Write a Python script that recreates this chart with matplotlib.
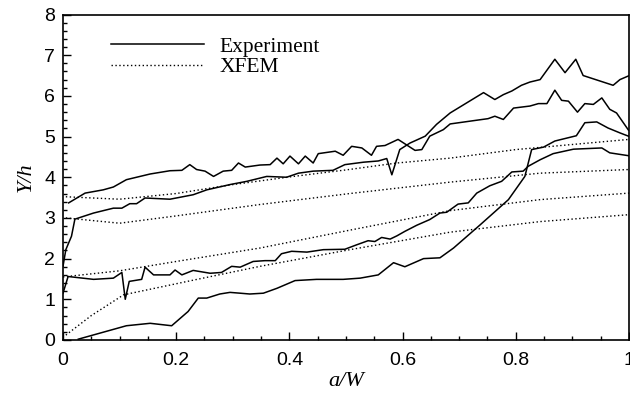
import matplotlib
matplotlib.use("Agg")
import matplotlib.pyplot as plt
from matplotlib.ticker import MultipleLocator

# ---- data ----
exp1_x = [0.01, 0.039, 0.071, 0.089, 0.112, 0.154, 0.189, 0.210, 0.224, 0.236, 0.251, 0.266, 0.283,
          0.298, 0.310, 0.322, 0.348, 0.366, 0.378, 0.389, 0.401, 0.416, 0.428, 0.442, 0.451, 0.481,
          0.495, 0.510, 0.528, 0.545, 0.554, 0.569, 0.592, 0.622, 0.634, 0.648, 0.672, 0.684, 0.725,
          0.751, 0.763, 0.778, 0.796, 0.825, 0.840, 0.855, 0.869, 0.881, 0.893, 0.909, 0.922, 0.937,
          0.952, 0.966, 0.978, 0.999]
exp1_y = [3.37, 3.61, 3.69, 3.76, 3.94, 4.08, 4.16, 4.17, 4.31, 4.19, 4.15, 4.02, 4.15,
          4.17, 4.35, 4.25, 4.30, 4.31, 4.47, 4.33, 4.52, 4.33, 4.52, 4.35, 4.58, 4.64,
          4.54, 4.76, 4.72, 4.54, 4.76, 4.78, 4.93, 4.66, 4.68, 5.01, 5.17, 5.31, 5.39,
          5.44, 5.50, 5.42, 5.70, 5.75, 5.81, 5.81, 6.14, 5.89, 5.87, 5.60, 5.81, 5.79,
          5.95, 5.67, 5.58, 5.16]

exp2_x = [0.0, 0.005, 0.015, 0.021, 0.054, 0.089, 0.104, 0.118, 0.130, 0.145, 0.189, 0.230, 0.254,
          0.295, 0.325, 0.360, 0.395, 0.416, 0.442, 0.477, 0.498, 0.531, 0.557, 0.572, 0.581,
          0.595, 0.613, 0.640, 0.660, 0.684, 0.743, 0.763, 0.778, 0.793, 0.810, 0.825, 0.843,
          0.869, 0.887, 0.906, 0.919, 0.972, 0.984, 0.999]
exp2_y = [1.81, 2.22, 2.55, 2.97, 3.12, 3.24, 3.24, 3.35, 3.35, 3.49, 3.46, 3.57, 3.69,
          3.82, 3.90, 4.02, 4.00, 4.10, 4.15, 4.17, 4.31, 4.37, 4.40, 4.46, 4.06,
          4.68, 4.84, 5.01, 5.30, 5.58, 6.08, 5.91, 6.03, 6.12, 6.26, 6.34, 6.40,
          6.90, 6.57, 6.90, 6.50, 6.26, 6.40, 6.49]

exp3_x = [0.0, 0.009, 0.054, 0.089, 0.104, 0.110, 0.117, 0.139, 0.145, 0.160, 0.189, 0.198, 0.210,
          0.230, 0.260, 0.280, 0.298, 0.313, 0.336, 0.357, 0.375, 0.386, 0.404, 0.431, 0.460,
          0.498, 0.519, 0.539, 0.551, 0.563, 0.578, 0.590, 0.604, 0.625, 0.648, 0.666, 0.678,
          0.698, 0.716, 0.731, 0.754, 0.775, 0.793, 0.813, 0.822, 0.843, 0.866, 0.902, 0.952,
          0.966, 0.999]
exp3_y = [1.15, 1.56, 1.49, 1.52, 1.66, 1.00, 1.44, 1.49, 1.79, 1.60, 1.60, 1.72, 1.60,
          1.71, 1.64, 1.66, 1.81, 1.79, 1.93, 1.95, 1.95, 2.12, 2.18, 2.16, 2.22,
          2.23, 2.34, 2.44, 2.42, 2.52, 2.48, 2.56, 2.67, 2.82, 2.96, 3.12, 3.14,
          3.34, 3.37, 3.61, 3.79, 3.90, 4.13, 4.15, 4.27, 4.43, 4.58, 4.69, 4.72,
          4.60, 4.53]

exp4_x = [0.027, 0.112, 0.154, 0.192, 0.221, 0.239, 0.254, 0.277, 0.295, 0.313, 0.330, 0.354, 0.378,
          0.410, 0.448, 0.495, 0.525, 0.557, 0.584, 0.604, 0.637, 0.666, 0.690, 0.737, 0.787,
          0.816, 0.828, 0.849, 0.869, 0.907, 0.922, 0.943, 0.963, 0.984, 0.999]
exp4_y = [0.02, 0.35, 0.41, 0.35, 0.70, 1.03, 1.03, 1.13, 1.17, 1.15, 1.13, 1.15, 1.27,
          1.46, 1.49, 1.49, 1.52, 1.60, 1.90, 1.80, 2.00, 2.02, 2.26, 2.83, 3.45,
          4.02, 4.68, 4.74, 4.89, 5.02, 5.34, 5.36, 5.21, 5.09, 5.01]

xfem1_x = [0.005, 0.1, 0.2, 0.3, 0.407, 0.5, 0.59, 0.684, 0.8, 1.0]
xfem1_y = [3.52, 3.46, 3.60, 3.82, 4.02, 4.18, 4.35, 4.47, 4.68, 4.93]

xfem2_x = [0.005, 0.1, 0.2, 0.348, 0.507, 0.684, 0.843, 1.0]
xfem2_y = [3.00, 2.87, 3.05, 3.33, 3.60, 3.88, 4.10, 4.19]

xfem3_x = [0.0, 0.1, 0.2, 0.348, 0.507, 0.684, 0.843, 1.0]
xfem3_y = [1.55, 1.70, 1.93, 2.26, 2.70, 3.18, 3.45, 3.61]

xfem4_x = [0.005, 0.05, 0.107, 0.23, 0.348, 0.507, 0.684, 0.843, 1.0]
xfem4_y = [0.12, 0.60, 1.11, 1.47, 1.81, 2.22, 2.65, 2.91, 3.08]

xticks = [0, 0.2, 0.4, 0.6, 0.8, 1]
xticklabels = ["0", "0.2", "0.4", "0.6", "0.8", "1"]
yticks = [0, 1, 2, 3, 4, 5, 6, 7, 8]

# ---- figure ----
fig = plt.figure(figsize=(6.3, 3.93), dpi=100)
ax = fig.add_axes([0.1, 0.1349, 0.8984, 0.8282])

solid = dict(color="black", lw=1.1, ls="-")
dotted = dict(color="black", lw=1.0, ls=(0, (1, 1.8)))

ax.plot(exp1_x, exp1_y, label="Experiment", **solid)
ax.plot(exp2_x, exp2_y, **solid)
ax.plot(exp3_x, exp3_y, **solid)
ax.plot(exp4_x, exp4_y, **solid)
ax.plot(xfem1_x, xfem1_y, label="XFEM", **dotted)
ax.plot(xfem2_x, xfem2_y, **dotted)
ax.plot(xfem3_x, xfem3_y, **dotted)
ax.plot(xfem4_x, xfem4_y, **dotted)

ax.set_xlim(0, 1)
ax.set_ylim(0, 8)
ax.set_xticks(xticks)
ax.set_xticklabels(xticklabels)
ax.set_yticks(yticks)
ax.xaxis.set_minor_locator(MultipleLocator(0.05))
ax.yaxis.set_minor_locator(MultipleLocator(0.2))

ax.tick_params(which="both", direction="in", width=1.0)
ax.tick_params(which="major", length=5.8)
ax.tick_params(which="minor", length=2.8)
ax.tick_params(axis="x", pad=9)
ax.tick_params(axis="y", pad=5.5)
for lab in ax.get_xticklabels() + ax.get_yticklabels():
    lab.set_family("Liberation Sans")
    lab.set_fontsize(14)

for sp in ax.spines.values():
    sp.set_linewidth(1.2)

ax.set_xlabel("a/W", family="Liberation Serif", style="italic", fontsize=16, labelpad=2)
ax.set_ylabel("Y/h", family="Liberation Serif", style="italic", fontsize=16, labelpad=6)

leg = ax.legend(loc="upper left", bbox_to_anchor=(0.085, 0.932), frameon=False,
                prop={"family": "Liberation Serif", "size": 15.5},
                handlelength=4.3, handletextpad=0.75, labelspacing=0.03,
                borderpad=0, borderaxespad=0)

fig.savefig("out.png", dpi=100)
